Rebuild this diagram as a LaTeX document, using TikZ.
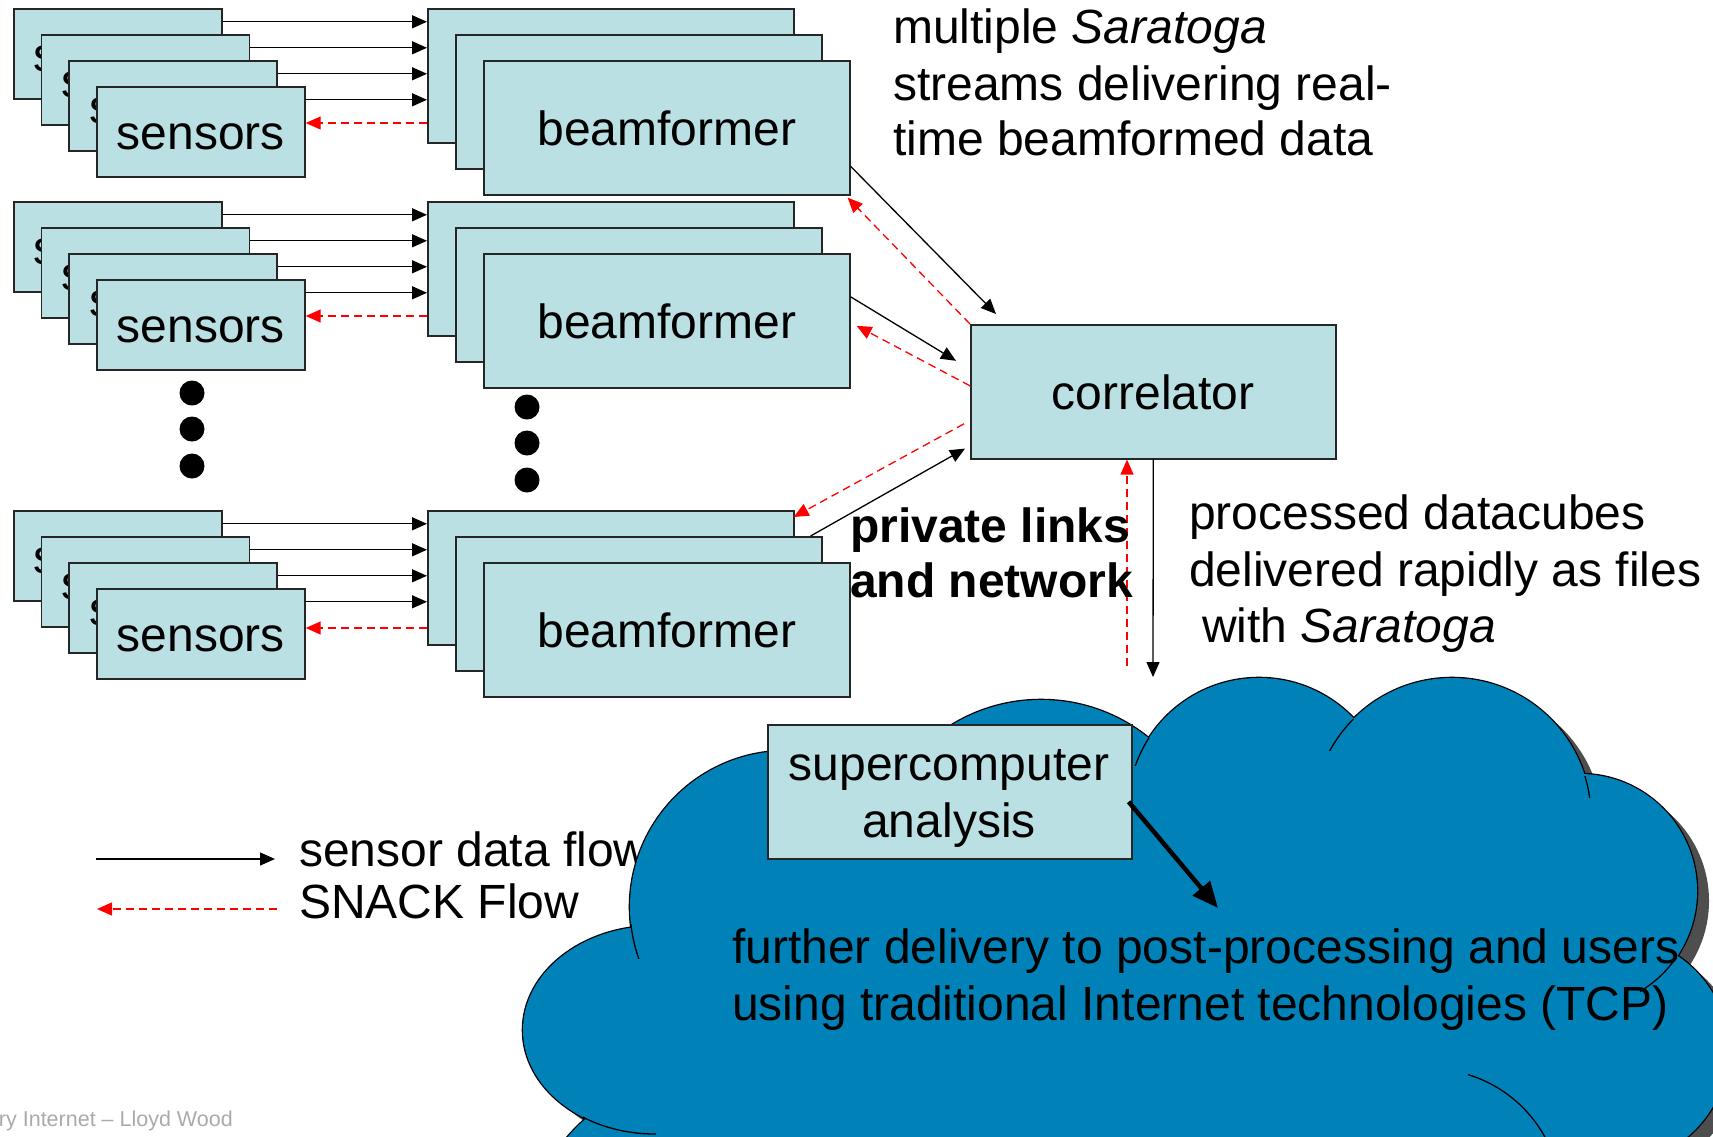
\documentclass[tikz,border=0pt]{standalone}
\usepackage{fontspec}
\setmainfont{Liberation Sans}
\usetikzlibrary{arrows.meta,calc}
\definecolor{panelfill}{RGB}{187,224,227}
\definecolor{cloudblue}{RGB}{0,130,185}
\definecolor{cloudshade}{RGB}{78,78,78}
\definecolor{footgray}{RGB}{170,170,170}
\newcommand\bigfont{\fontsize{48}{57}\selectfont}
% lobes of the network cloud: centre x / centre y / x radius / y radius
\newcommand\cloudlobes[1]{%
  \foreach \cx/\cy/\rx/\ry in {1041/871/171/171,1259/809/131/131,1452/817/139/139,1580/891/117/117,1615/1050/113/113,786/907/156/156,655/1030/132/104,700/1250/174/174}
    {\path[#1] (\cx,\cy) ellipse[x radius=\rx, y radius=\ry];}%
}
\begin{document}
\begin{tikzpicture}[x=1pt, y=-1pt,
  panel/.style={draw=black!85, line width=1.6pt, fill=panelfill, inner sep=0pt,
    anchor=north west, text height=36pt, text depth=0pt, font=\bigfont},
  sensbox/.style={panel, minimum width=208pt, minimum height=90pt},
  beambox/.style={panel, minimum width=366pt, minimum height=134pt},
  flow/.style={draw=black, line width=1.3pt, -{Triangle[length=15pt,width=13pt]}},
  snackflow/.style={draw=red, line width=1.3pt, dash pattern=on 8pt off 5pt,
    -{Triangle[length=15pt,width=13pt]}},
  txt/.style={font=\bigfont, inner sep=0pt, anchor=base west},
  bigdot/.style={circle, fill=black, inner sep=0pt, minimum size=25pt}
]
\useasboundingbox (0,0) rectangle (1713,1136);

% sensor stacks, beamformer stacks and their links
\foreach \r/\dy/\ry in {1/0/123, 2/193/316, 3/502/628} {
  \foreach \i in {1,...,4} {
    \node[sensbox] (s\r\i) at ({13+27.7*(\i-1)}, {8+26*(\i-1)+\dy}) {sensors};
  }
  \node[beambox] (b\r1) at (427, 8+\dy) {};
  \node[beambox] (b\r2) at (455, 34+\dy) {};
  \node[beambox] (b\r3) at (483, 60+\dy) {beamformer};
  \foreach \i in {1,...,4} {
    \coordinate (o\r\i) at ([yshift=32pt]s\r\i.east);
    \draw[flow] (o\r\i) -- (o\r\i -| b\r1.west);
  }
  \draw[snackflow] (b\r1.west |- 0,\ry) -- (s\r4.east |- 0,\ry);
}

% ellipsis dots
\node[bigdot] (dl1) at (192,393) {};
\node[bigdot] (dl2) at (192,429) {};
\node[bigdot] (dl3) at (192,466) {};
\node[bigdot] (dr1) at (527,407) {};
\node[bigdot] (dr2) at (527,443) {};
\node[bigdot] (dr3) at (527,480) {};

% correlator
\node[panel, minimum width=365pt, minimum height=134pt] (corr) at (970,324) {correlator};

\draw[flow] ([yshift=-38.5pt]b13.east) -- ([xshift=26pt,yshift=10pt]corr.north west);
\draw[snackflow] (corr.north west) -- ([xshift=-3pt,yshift=-2pt]b13.south east);
\draw[flow] ([yshift=24pt]b23.east) -- ([xshift=-14pt,yshift=31pt]corr.west);
\draw[snackflow] ([yshift=6pt]corr.west) -- ([xshift=6pt,yshift=-5pt]b23.east);
\draw[snackflow] ([xshift=-6pt,yshift=-32pt]corr.west) -- ([xshift=-1pt,yshift=-7pt]b31.north east);
\draw[flow] ([xshift=-12pt]b32.north east) -- ([xshift=-5pt,yshift=11pt]corr.south west);

\coordinate (cdown) at (1153,677);
\coordinate (cup) at (1127,666);
\draw[flow] (corr.south) -- (cdown);
\draw[snackflow] (cup) -- (corr.south -| cup);

% explanatory text
\node[txt] (t1a) at (893,43) {multiple \textit{Saratoga}};
\node[txt] (t1b) at (893,100) {streams delivering real-};
\node[txt] (t1c) at (893,155) {time beamformed data};
\node[txt, font=\bigfont\bfseries] (t2a) at (850,542) {private links};
\node[txt, font=\bigfont\bfseries] (t2b) at (850,597) {and network};
\node[txt] (t3a) at (1189,529) {processed datacubes};
\node[txt] (t3b) at (1189,586) {delivered rapidly as files};
\node[txt] (t3c) at (1202,642) {with \textit{Saratoga}};

% legend
\coordinate (lga) at (96,859);
\coordinate (lgb) at (275,859);
\coordinate (lgc) at (277,909);
\coordinate (lgd) at (97,909);
\draw[flow] (lga) -- (lgb);
\draw[snackflow] (lgc) -- (lgd);
\node[txt] (lg1) at (299,866) {sensor data flow};
\node[txt] (lg2) at (299,918) {SNACK Flow};

\node[anchor=base east, inner sep=0pt, text=footgray, font=\fontsize{21.5}{24}\selectfont] (foot) at (233,1126) {ry Internet -- Lloyd Wood};

% network cloud: shadow, outline, fill, inner arcs
\cloudlobes{fill=cloudshade, shift={(12,10)}}
\fill[cloudshade, shift={(12,10)}] (700,1000) -- (800,880) -- (1000,800) -- (1150,780) -- (1260,800) -- (1450,800) -- (1560,860) -- (1600,950) -- (1600,1060) -- (1670,1160) -- (620,1160) -- (620,1050) -- cycle;
\cloudlobes{draw=black, line width=2.6pt}
\cloudlobes{fill=cloudblue}
\fill[cloudblue] (700,1000) -- (800,880) -- (1000,800) -- (1150,780) -- (1260,800) -- (1450,800) -- (1560,860) -- (1600,950) -- (1600,1060) -- (1670,1160) -- (620,1160) -- (620,1050) -- cycle;
\begin{scope}[line width=1.3pt]
  \begin{scope}\clip (624,924) rectangle (646,958); \draw (786,907) circle[radius=156]; \end{scope}
  \begin{scope}\clip (583,1112) rectangle (656,1140); \draw (655,1030) ellipse[x radius=132, y radius=104]; \end{scope}
  \begin{scope}\clip (1130,738) rectangle (1151,765); \draw (1259,809) circle[radius=131]; \end{scope}
  \begin{scope}\clip (1328,719) rectangle (1354,750); \draw (1452,817) circle[radius=139]; \end{scope}
  \begin{scope}\clip (1578,776) rectangle (1600,797); \draw (1452,817) circle[radius=139]; \end{scope}
  \begin{scope}\clip (1640,957) rectangle (1680,993); \draw (1580,891) circle[radius=117]; \end{scope}
  \begin{scope}\clip (1468,1074) rectangle (1560,1137); \draw (1430,1200) circle[radius=131]; \end{scope}
\end{scope}

% supercomputer and onward delivery
\node[panel, minimum width=364pt, minimum height=134pt] (super) at (767,724) {};
\node[txt, anchor=base] (supA) at (949,780) {supercomputer};
\node[txt, anchor=base] (supB) at (949,837) {analysis};
\coordinate (deliv) at (1218,908);
\draw[line width=4.5pt, -{Triangle[length=26pt,width=22pt]}] ([xshift=-4pt,yshift=-10pt]super.east) -- (deliv);
\node[txt] (t4a) at (732,963) {further delivery to post-processing and users};
\node[txt] (t4b) at (732,1020) {using traditional Internet technologies (TCP)};
\end{tikzpicture}
\end{document}
